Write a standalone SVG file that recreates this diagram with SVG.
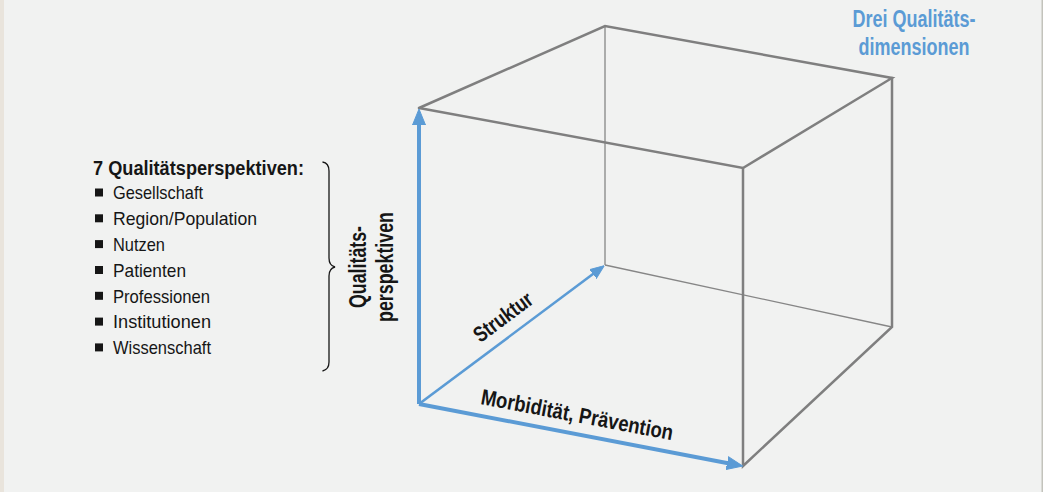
<svg xmlns="http://www.w3.org/2000/svg" width="1043" height="492" viewBox="0 0 1043 492">
<style>
.bg{fill:#f1f2f1}
.edge{stroke:#7f7f7f;stroke-width:2.5;fill:none;stroke-linecap:round}
.hid{stroke:#868686;stroke-width:1.3;fill:none}
.ax{stroke:#5b9bd5;fill:none}
.t{font-family:"Liberation Sans",Arial,sans-serif;fill:#161616}
.b{font-weight:bold}
.blue{fill:#5b9bd5}
</style>
<defs>
<marker id="ah" viewBox="0 0 16 14" refX="5" refY="7" markerWidth="16" markerHeight="14" markerUnits="userSpaceOnUse" orient="auto">
<path d="M0,0.5 L16,7 L0,13.5 z" fill="#5b9bd5" stroke="#5b9bd5" stroke-width="1" stroke-linejoin="round"/>
</marker>
<marker id="ahs" viewBox="0 0 14 12" refX="5" refY="6" markerWidth="14" markerHeight="12" markerUnits="userSpaceOnUse" orient="auto">
<path d="M0,0.5 L14,6 L0,11.5 z" fill="#5b9bd5" stroke="#5b9bd5" stroke-width="1" stroke-linejoin="round"/>
</marker>
</defs>
<rect class="bg" x="0" y="0" width="1043" height="492"/>
<rect x="0" y="0" width="4" height="492" fill="#e9e4dc"/>
<rect x="1041.5" y="0" width="1.5" height="492" fill="#c3c3bc"/>

<g id="cube">
<line class="hid" x1="605" y1="26" x2="605" y2="265"/>
<line class="hid" x1="605" y1="265" x2="892" y2="327"/>
<polyline class="edge" points="419,108 605,26 892,78 743,168 419,108"/>
<polyline class="edge" points="743,168 743,466 892,327 892,78"/>
</g>

<g id="connectors">
<line class="ax" x1="419" y1="404" x2="597" y2="271" stroke-width="2.6" marker-end="url(#ahs)"/>
<line class="ax" x1="419" y1="404" x2="419" y2="120" stroke-width="4" marker-end="url(#ah)"/>
<line class="ax" x1="419" y1="404" x2="732" y2="464" stroke-width="4" marker-end="url(#ah)"/>
</g>

<g id="title-dimensions">
<text class="t b blue" x="914" y="27" font-size="23" text-anchor="middle" textLength="123" lengthAdjust="spacingAndGlyphs">Drei Qualitäts-</text>
<text class="t b blue" x="914" y="55" font-size="23" text-anchor="middle" textLength="111" lengthAdjust="spacingAndGlyphs">dimensionen</text>
</g>

<g id="perspectives-list">
<text class="t b" x="93" y="175" font-size="19.5" textLength="211" lengthAdjust="spacingAndGlyphs">7 Qualitätsperspektiven:</text>
<g fill="#161616">
<rect x="95" y="188.5" width="8" height="8"/>
<rect x="95" y="214.3" width="8" height="8"/>
<rect x="95" y="240.1" width="8" height="8"/>
<rect x="95" y="266" width="8" height="8"/>
<rect x="95" y="291.8" width="8" height="8"/>
<rect x="95" y="317.6" width="8" height="8"/>
<rect x="95" y="343.4" width="8" height="8"/>
</g>
<text class="t" x="113" y="199.3" font-size="19" textLength="90" lengthAdjust="spacingAndGlyphs">Gesellschaft</text>
<text class="t" x="113" y="225.1" font-size="19" textLength="144" lengthAdjust="spacingAndGlyphs">Region/Population</text>
<text class="t" x="113" y="251" font-size="19" textLength="52" lengthAdjust="spacingAndGlyphs">Nutzen</text>
<text class="t" x="113" y="276.8" font-size="19" textLength="73" lengthAdjust="spacingAndGlyphs">Patienten</text>
<text class="t" x="113" y="302.6" font-size="19" textLength="97" lengthAdjust="spacingAndGlyphs">Professionen</text>
<text class="t" x="113" y="328.4" font-size="19" textLength="98" lengthAdjust="spacingAndGlyphs">Institutionen</text>
<text class="t" x="113" y="354.3" font-size="19" textLength="98" lengthAdjust="spacingAndGlyphs">Wissenschaft</text>
</g>

<g id="brace">
<path d="M322.5,162 Q329,163 329,171 L329,258 Q329,265.5 335,267 Q329,268.5 329,276 L329,362 Q329,369.5 322.5,371" fill="none" stroke="#161616" stroke-width="1.3"/>
</g>

<g id="axis-label-vertical">
<text class="t b" transform="translate(366,267) rotate(-90)" font-size="23" text-anchor="middle" textLength="82" lengthAdjust="spacingAndGlyphs">Qualitäts-</text>
<text class="t b" transform="translate(393,267) rotate(-90)" font-size="23" text-anchor="middle" textLength="110" lengthAdjust="spacingAndGlyphs">perspektiven</text>
</g>

<g id="axis-label-struktur">
<text class="t b" transform="translate(507.5,323) rotate(-36.8)" font-size="22" text-anchor="middle" textLength="68" lengthAdjust="spacingAndGlyphs">Struktur</text>
</g>

<g id="axis-label-morbiditaet">
<text class="t b" transform="translate(480,404) rotate(10.7)" font-size="22" textLength="195" lengthAdjust="spacingAndGlyphs">Morbidität, Prävention</text>
</g>
</svg>
